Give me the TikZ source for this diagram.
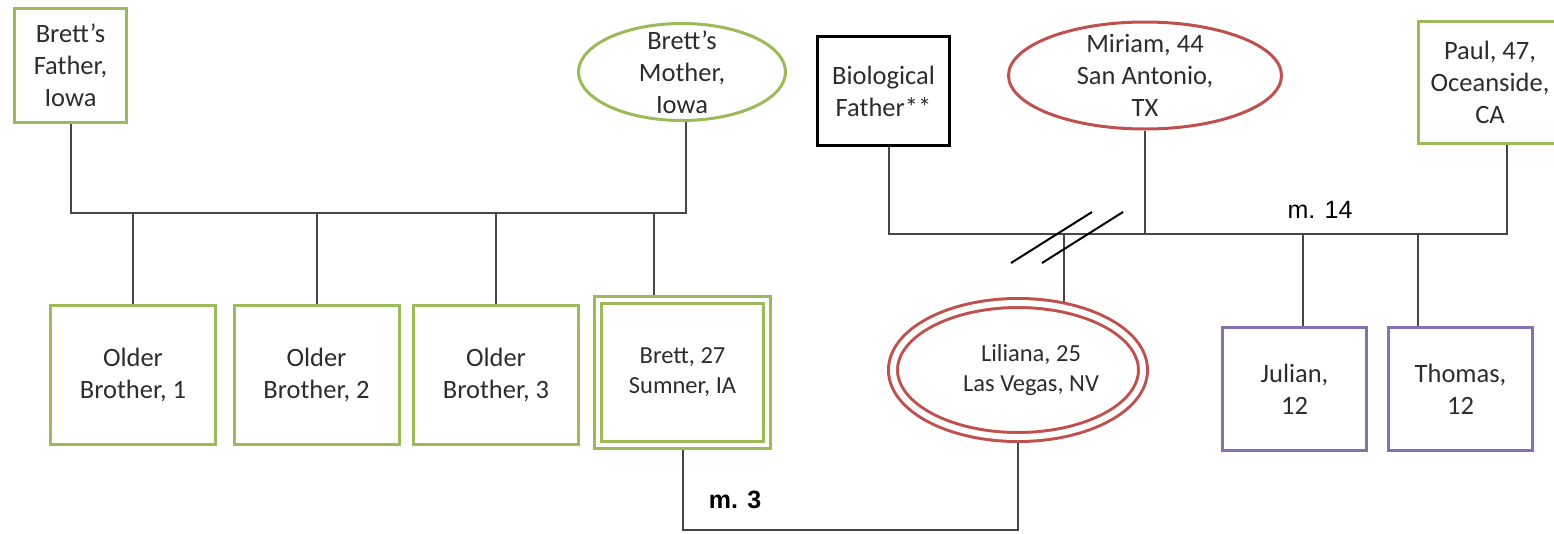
\documentclass[tikz,border=0pt]{standalone}
\usepackage{fontspec}
\setmainfont{Carlito}
\newfontfamily\labelfont{Liberation Sans}
\usetikzlibrary{shapes.geometric,backgrounds,calc}

\definecolor{olive}{RGB}{155,187,89}
\definecolor{brick}{RGB}{192,80,77}
\definecolor{plum}{RGB}{135,112,178}
\definecolor{wire}{RGB}{70,70,70}
\definecolor{ink}{RGB}{45,45,45}

\tikzset{
  person/.style={rectangle, fill=white, line width=3pt, text=ink, align=center,
    inner sep=0pt, font=\fontsize{26.5}{32}\selectfont},
  greenbox/.style={person, draw=olive},
  blackbox/.style={person, draw=black},
  purplebox/.style={person, draw=plum},
  oval/.style={ellipse, fill=white, line width=3pt, inner sep=0pt},
  greenoval/.style={oval, draw=olive},
  redoval/.style={oval, draw=brick},
  ovaltext/.style={text=ink, align=center, inner sep=0pt,
    font=\fontsize{26.5}{32}\selectfont},
  wireline/.style={draw=wire, line width=2pt},
  slash/.style={draw=black, line width=2pt},
  mlabel/.style={text=black, inner sep=0pt, font=\labelfont\fontsize{25}{30}\selectfont}
}

\begin{document}
\begin{tikzpicture}[x=1pt,y=-1pt]
\useasboundingbox (0,0) rectangle (1554,533);

% Brett's family of origin
\node[greenbox, minimum width=112pt, minimum height=114pt] (bf) at (70.5,65.5) {Brett’s\\Father,\\Iowa};
\node[greenoval, minimum width=207pt, minimum height=97pt] (bm) at (682,72) {};
\node[ovaltext] (bmT) at (bm) {Brett’s\\Mother,\\Iowa};

\node[greenbox, minimum width=165pt, minimum height=139pt] (ob1) at (133,375) {Older\\Brother, 1};
\node[greenbox, minimum width=165pt, minimum height=139pt] (ob2) at (316.5,375) {Older\\Brother, 2};
\node[greenbox, minimum width=165pt, minimum height=139pt] (ob3) at (496,375) {Older\\Brother, 3};
\node[greenbox, double=white, double distance=4pt, minimum width=169pt, minimum height=145pt,
      font=\fontsize{24.5}{30}\selectfont] (brett) at (682.5,372.5) {Brett, 27\\Sumner, IA};

% Liliana's family
\node[blackbox, minimum width=132pt, minimum height=109pt] (bio) at (883.5,91) {Biological\\Father**};
\node[redoval, minimum width=273pt, minimum height=107pt] (mir) at (1145,75.5) {};
\node[ovaltext] (mirT) at (mir) {Miriam, 44\\San Antonio,\\TX};
\node[greenbox, minimum width=143pt, minimum height=122pt] (paul) at (1490,82.5) {Paul, 47,\\Oceanside,\\CA};

\node[redoval, double=white, double distance=6pt, minimum width=250pt, minimum height=134pt] (lili) at (1018,370) {};
\node[ovaltext, font=\fontsize{24.5}{30}\selectfont] (liliT) at ([xshift=13pt]lili.center) {Liliana, 25\\Las Vegas, NV};

\node[purplebox, minimum width=144pt, minimum height=123pt] (jul) at (1294.5,389) {Julian,\\12};
\node[purplebox, minimum width=144pt, minimum height=123pt] (tho) at (1460.5,389) {Thomas,\\12};

% connector attachment points
\coordinate (lbar) at (0,213);
\coordinate (rbar) at (0,234);
\coordinate (mbase) at (0,530);
\coordinate (bmfoot) at ([xshift=4pt]bm.south);
\coordinate (brtop) at ([xshift=-28.5pt]brett.north);
\coordinate (biofoot) at ([xshift=5.5pt]bio.south);
\coordinate (paulfoot) at ([xshift=17pt]paul.south);
\coordinate (julhead) at ([xshift=8.5pt]jul.north);
\coordinate (thohead) at ([xshift=-42.5pt]tho.north);
\coordinate (lilhead) at ([xshift=46pt]lili.north);
\coordinate (lilfoot) at (lili.south);
\coordinate (cut) at (lilhead |- rbar);

\begin{pgfonlayer}{background}
  % parents and sons
  \draw[wireline] (bf.south) |- (bmfoot |- lbar) -- (bmfoot);
  \draw[wireline] (ob1.north) -- (ob1.north |- lbar);
  \draw[wireline] (ob2.north) -- (ob2.north |- lbar);
  \draw[wireline] (ob3.north) -- (ob3.north |- lbar);
  \draw[wireline] (brtop) -- (brtop |- lbar);
  % Miriam's unions and children
  \draw[wireline] (biofoot) |- (paulfoot |- rbar) -- (paulfoot);
  \draw[wireline] (mir.south) -- (mir.south |- rbar);
  \draw[wireline] (julhead) -- (julhead |- rbar);
  \draw[wireline] (thohead) -- (thohead |- rbar);
  \draw[wireline] (lilhead) -- (cut);
  % marriage of Brett and Liliana
  \draw[wireline] (brett.south) |- (lilfoot |- mbase) -- (lilfoot);
\end{pgfonlayer}

% divorce mark
\draw[slash] ($(cut)+(-53,29)$) -- ($(cut)+(28,-22)$);
\draw[slash] ($(cut)+(-22,29)$) -- ($(cut)+(59,-22)$);

\node[mlabel, font=\labelfont\bfseries\fontsize{25}{30}\selectfont] (m3) at (735,500) {m. 3};
\node[mlabel] (m14) at (1320,210) {m. 14};
\end{tikzpicture}
\end{document}
